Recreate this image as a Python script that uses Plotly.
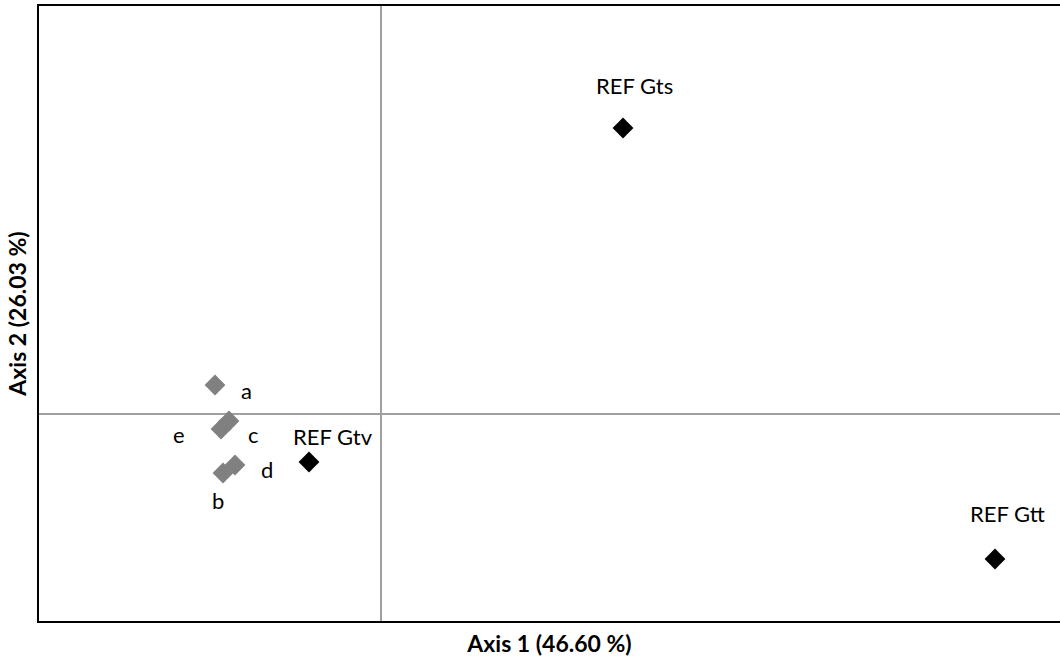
import plotly.graph_objects as go

# Data (axis 1, axis 2 coordinates)
ind_labels = ["a", "b", "c", "d", "e"]
ind_x = [-0.83, -0.79, -0.76, -0.73, -0.80]
ind_y = [0.145, -0.295, -0.035, -0.255, -0.075]

ref_labels = ["REF Gtv", "REF Gts", "REF Gtt"]
ref_x = [-0.36, 1.21, 3.07]
ref_y = [-0.24, 1.43, -0.725]

x_title = "Axis 1 (46.60 %)"
y_title = "Axis 2 (26.03 %)"

# label offsets in px (styling)
ind_off = {"a": (31, -5), "b": (-5, -27), "c": (24, -13), "d": (32, -4), "e": (-42, -5)}
ref_off = {"REF Gtv": (24, 26), "REF Gts": (11, 43), "REF Gtt": (12, 46)}

FONT = "Lato"
LBL = 22
TTL = 23

fig = go.Figure()
fig.add_trace(go.Scatter(x=ind_x, y=ind_y, mode="markers",
                         marker=dict(symbol="diamond", size=16, color="#808080"),
                         hoverinfo="text", text=ind_labels, showlegend=False))
fig.add_trace(go.Scatter(x=ref_x, y=ref_y, mode="markers",
                         marker=dict(symbol="diamond", size=16, color="#000000"),
                         hoverinfo="text", text=ref_labels, showlegend=False))

annotations = []
for lab, xv, yv in zip(ind_labels, ind_x, ind_y):
    dx, dy = ind_off[lab]
    annotations.append(dict(x=xv, y=yv, text=lab, showarrow=False, xshift=dx, yshift=dy,
                            font=dict(family=FONT, size=LBL, color="#000")))
for lab, xv, yv in zip(ref_labels, ref_x, ref_y):
    dx, dy = ref_off[lab]
    annotations.append(dict(x=xv, y=yv, text=lab, showarrow=False, xshift=dx, yshift=dy,
                            font=dict(family=FONT, size=LBL, color="#000")))

fig.update_layout(
    width=1060, height=664,
    margin=dict(l=39, r=0, t=6, b=43),
    paper_bgcolor="white", plot_bgcolor="white",
    font=dict(family=FONT, size=LBL, color="#000"),
    annotations=annotations,
    xaxis=dict(range=[-1.71, 3.395], showgrid=False, showticklabels=False, ticks="",
               zeroline=True, zerolinecolor="#a0a0a0", zerolinewidth=1.5,
               showline=True, linecolor="#000", linewidth=2, mirror=True,
               title=dict(text="<b>" + x_title + "</b>", font=dict(family=FONT, size=TTL), standoff=14)),
    yaxis=dict(range=[-1.035, 2.04], showgrid=False, showticklabels=False, ticks="",
               zeroline=True, zerolinecolor="#a0a0a0", zerolinewidth=1.5,
               showline=True, linecolor="#000", linewidth=2, mirror=False,
               title=dict(text="<b>" + y_title + "</b>", font=dict(family=FONT, size=TTL), standoff=4)),
)

fig.write_html("out.html", config={"displayModeBar": False},
               post_script="document.body.style.margin='0px';")
